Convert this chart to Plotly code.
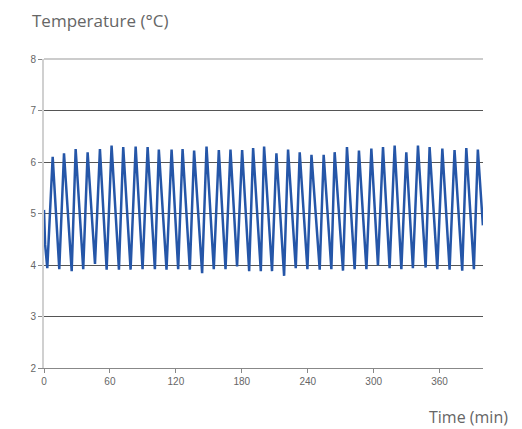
import plotly.graph_objects as go

# turning points (minutes, deg C)
trough_t = [3.0, 13.9, 25.2, 35.7, 46.4, 57.0, 68.2, 78.8, 89.7, 100.9, 111.5, 122.1,
            132.7, 143.9, 154.5, 165.2, 175.7, 186.7, 197.3, 207.5, 218.5, 229.1, 239.7,
            250.9, 261.5, 272.1, 282.7, 293.4, 303.9, 314.5, 325.2, 335.7, 347.3, 357.9,
            369.1, 380.6, 391.2]
trough_v = [3.94, 3.92, 3.88, 3.92, 4.02, 3.91, 3.91, 3.91, 3.92, 3.92, 3.91, 3.92,
            3.91, 3.84, 3.92, 3.92, 3.97, 3.88, 3.88, 3.88, 3.79, 3.94, 3.92, 3.91,
            3.92, 3.89, 3.92, 3.92, 3.99, 3.94, 3.92, 3.94, 3.95, 3.92, 3.91, 3.89, 3.92]
peak_t = [7.9, 18.2, 28.8, 39.7, 50.9, 61.5, 72.1, 83.4, 94.3, 104.5, 116.1, 126.1,
          136.6, 147.9, 159.1, 169.7, 180.3, 190.3, 200.3, 211.5, 222.1, 232.7, 243.4,
          254.5, 264.5, 275.7, 286.6, 297.9, 308.5, 319.1, 329.7, 340.3, 350.9, 362.5,
          373.6, 384.3, 394.8]
peak_v = [6.10, 6.17, 6.25, 6.19, 6.25, 6.32, 6.29, 6.30, 6.29, 6.24, 6.24, 6.25,
          6.22, 6.30, 6.23, 6.24, 6.23, 6.27, 6.30, 6.17, 6.24, 6.19, 6.14, 6.14,
          6.19, 6.29, 6.22, 6.26, 6.29, 6.32, 6.19, 6.32, 6.29, 6.26, 6.23, 6.27, 6.24]
start_t, start_v = [0.0, 1.0], [5.07, 4.4]
end_t, end_v = [399.4], [4.77]

x_ticks = [0, 60, 120, 180, 240, 300, 360]
y_ticks = [2, 3, 4, 5, 6, 7, 8]

t = list(start_t)
v = list(start_v)
for a, b, c, d in zip(trough_t, trough_v, peak_t, peak_v):
    t += [a, c]
    v += [b, d]
t += end_t
v += end_v

fig = go.Figure(go.Scatter(x=t, y=v, mode='lines',
                           line=dict(color='#2556a8', width=2.5)))

fig.update_layout(
    width=522, height=429,
    margin=dict(l=44, r=39, t=59, b=61, autoexpand=False),
    plot_bgcolor='white', paper_bgcolor='white',
    showlegend=False,
    font=dict(family='Liberation Sans', size=10, color='#666'),
)
fig.update_xaxes(range=[0, 399.5], tickvals=x_ticks, showgrid=False,
                 showline=True, linecolor='#888', linewidth=1,
                 ticks='outside', ticklen=4, tickcolor='#888', zeroline=False,
                 automargin=False)
fig.update_yaxes(range=[2, 8], tickvals=y_ticks, showgrid=True,
                 gridcolor='#555', gridwidth=1,
                 showline=True, linecolor='#d0d0d0', linewidth=2,
                 ticks='outside', ticklen=4, tickcolor='#888', zeroline=False,
                 automargin=False)

# plotly skips the gridline on the top edge; draw it along the plot's top border
fig.add_shape(type='line', xref='paper', yref='paper', x0=0, x1=1, y0=1, y1=1,
              line=dict(color='#999', width=1), layer='below')

fig.add_annotation(text='Temperature (°C)', xref='paper', yref='paper',
                   x=-0.032, y=1.126, xanchor='left', yanchor='middle',
                   showarrow=False, font=dict(family='Open Sans', size=17, color='#666'))
fig.add_annotation(text='Time (min)', xref='paper', yref='paper',
                   x=1.061, y=-0.159, xanchor='right', yanchor='middle',
                   showarrow=False, font=dict(family='Open Sans', size=16, color='#666'))

# page body has a default 8px margin; drop it so the figure sits at the corner
fig.write_html("out.html", config={'displayModeBar': False},
               post_script="document.body.style.margin='0';")
